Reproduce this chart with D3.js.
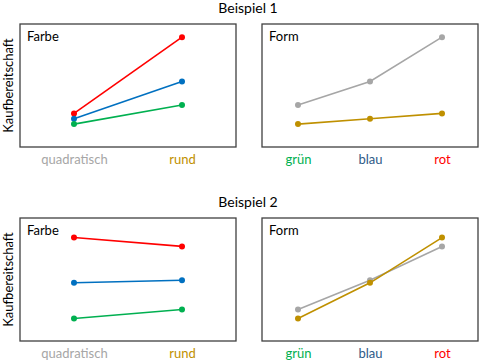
<!DOCTYPE html>
<html>
<head>
<meta charset="utf-8">
<script src="https://cdn.jsdelivr.net/npm/d3@7"></script>
<style>
  body { margin: 0; background: #fff; }
  text { font-family: Lato, "Open Sans", sans-serif; }
</style>
</head>
<body>
<div id="chart"></div>
<script>
// categories
var shapes = ["quadratisch", "rund"];
var colorsCat = ["grün", "blau", "rot"];

// Beispiel 1
var b1FarbeRot  = [2.73, 8.93];
var b1FarbeBlau = [2.30, 5.33];
var b1FarbeGruen = [1.86, 3.42];
var b1FormGrau = [3.42, 5.33, 8.93];
var b1FormGold = [1.86, 2.30, 2.73];

// Beispiel 2
var b2FarbeRot  = [8.41, 7.69];
var b2FarbeBlau = [4.73, 4.94];
var b2FarbeGruen = [1.83, 2.56];
var b2FormGrau = [2.56, 4.94, 7.69];
var b2FormGold = [1.83, 4.73, 8.41];

var red = "#FF0000", blue = "#0070C0", green = "#00B050",
    grey = "#A6A6A6", gold = "#BF9000";

var labelColors = {
  "quadratisch": "#A6A6A6", "rund": "#BF9000",
  "grün": "#00B050", "blau": "#2E5A87", "rot": "#FF0000"
};

var width = 479, height = 362;

var svg = d3.select("#chart").append("svg")
  .attr("width", width)
  .attr("height", height);

var drawPanel = function(x0, x1, y0, y1, title, cats, series) {
  var x = d3.scalePoint().domain(cats).range([x0, x1]).padding(0.5);
  var y = d3.scaleLinear().domain([0, 10]).range([y1, y0]);

  var g = svg.append("g");

  g.append("rect")
    .attr("x", x0).attr("y", y0)
    .attr("width", x1 - x0).attr("height", y1 - y0)
    .attr("fill", "none")
    .attr("stroke", "#404040")
    .attr("stroke-width", 1.3);

  g.append("text")
    .attr("x", x0 + 7)
    .attr("y", y0 + 17)
    .style("font-size", "13px")
    .attr("fill", "#000")
    .text(title);

  var line = d3.line()
    .x(function(d, i) { return x(cats[i]); })
    .y(function(d) { return y(d); });

  series.forEach(function(s) {
    g.append("path")
      .attr("d", line(s.values))
      .attr("fill", "none")
      .attr("stroke", s.color)
      .attr("stroke-width", 1.6);
    g.selectAll(null).data(s.values).enter().append("circle")
      .attr("cx", function(d, i) { return x(cats[i]); })
      .attr("cy", function(d) { return y(d); })
      .attr("r", 3)
      .attr("fill", s.color);
  });

  // x axis labels
  var ax = g.append("g")
    .attr("transform", "translate(0," + y1 + ")")
    .call(d3.axisBottom(x).tickSize(0).tickPadding(8));
  ax.select(".domain").remove();
  ax.selectAll("text")
    .style("font-size", "13px")
    .attr("font-family", null)
    .attr("fill", function(d) { return labelColors[d]; });
};

var drawRow = function(top, title, farbe, form) {
  var y0 = top, y1 = top + 123;

  svg.append("text")
    .attr("x", 248)
    .attr("y", top - 11)
    .style("text-anchor", "middle")
    .style("font-size", "14px")
    .text(title);

  // y axis label
  svg.append("text")
    .attr("transform", "rotate(-90)")
    .attr("x", -(y0 + y1) / 2)
    .attr("y", 13)
    .style("text-anchor", "middle")
    .style("font-size", "13px")
    .text("Kaufbereitschaft");

  drawPanel(20, 236, y0, y1, "Farbe", shapes, farbe);
  drawPanel(262, 478, y0, y1, "Form", colorsCat, form);
};

drawRow(24, "Beispiel 1",
  [{values: b1FarbeRot, color: red}, {values: b1FarbeBlau, color: blue}, {values: b1FarbeGruen, color: green}],
  [{values: b1FormGrau, color: grey}, {values: b1FormGold, color: gold}]);

drawRow(218, "Beispiel 2",
  [{values: b2FarbeRot, color: red}, {values: b2FarbeBlau, color: blue}, {values: b2FarbeGruen, color: green}],
  [{values: b2FormGrau, color: grey}, {values: b2FormGold, color: gold}]);
</script>
</body>
</html>
